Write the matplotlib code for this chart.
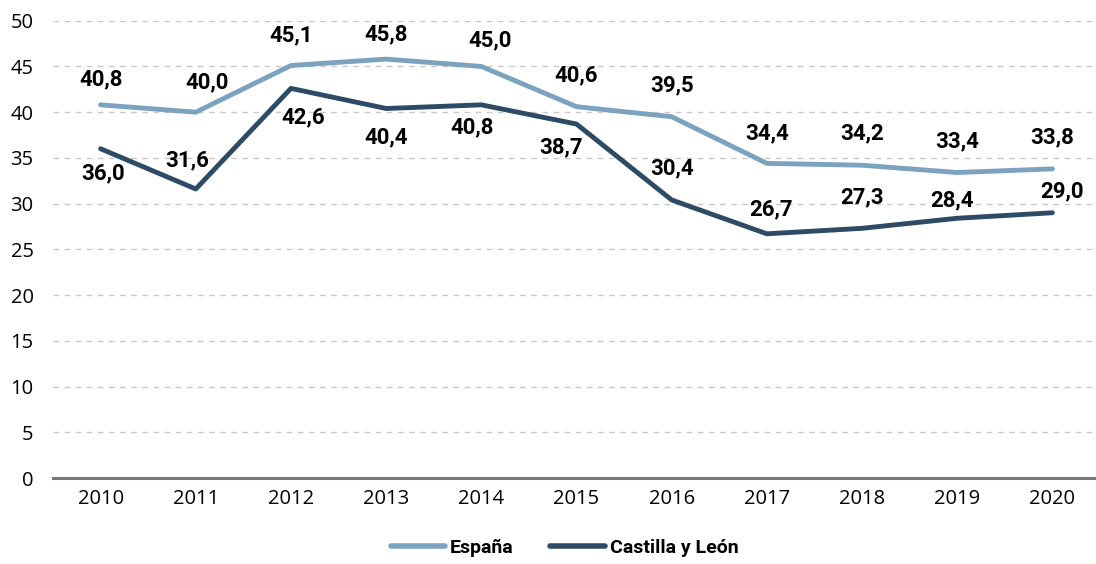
import matplotlib.pyplot as plt
from matplotlib.lines import Line2D

# Tasa por año, España frente a Castilla y León
years = ['2010', '2011', '2012', '2013', '2014', '2015', '2016', '2017', '2018', '2019', '2020']
espana = [40.8, 40.0, 45.1, 45.8, 45.0, 40.6, 39.5, 34.4, 34.2, 33.4, 33.8]
cyl = [36.0, 31.6, 42.6, 40.4, 40.8, 38.7, 30.4, 26.7, 27.3, 28.4, 29.0]

# label offsets in pixels (dx, dy), positive dy = upwards
off_esp = [(0, 25), (11, 30), (0, 30), (0, 25), (9, 26), (0, 31),
           (0, 31), (0, 30), (0, 32), (0, 31), (0, 32)]
off_cyl = [(2, -25), (-9, 29), (12, -29), (0, -29), (-9, -23), (-15, -23),
           (0, 32), (4, 24), (0, 31), (-5, 18), (10, 21)]

C_ESP = '#7ba3c0'
C_CYL = '#2d4b64'
BOLD_FONT = ['Roboto', 'DejaVu Sans']

plt.rcParams['font.family'] = ['Open Sans', 'DejaVu Sans']

fig = plt.figure(figsize=(10.96, 5.64), dpi=100)
# x axis runs slightly past the right edge of the figure
ax = fig.add_axes([53 / 1096, 1 - 478 / 564, (1100 - 53) / 1096, (478 - 20.7) / 564])

x = list(range(len(years)))
ax.plot(x, espana, color=C_ESP, lw=3.5, solid_capstyle='round', zorder=3)
ax.plot(x, cyl, color=C_CYL, lw=3.5, solid_capstyle='round', zorder=3)

for i in x:
    ax.annotate(f'{espana[i]:.1f}'.replace('.', ','), (i, espana[i]),
                xytext=off_esp[i], textcoords='offset pixels', family=BOLD_FONT,
                ha='center', va='center', fontsize=16, fontweight='bold', color='black')
    ax.annotate(f'{cyl[i]:.1f}'.replace('.', ','), (i, cyl[i]),
                xytext=off_cyl[i], textcoords='offset pixels', family=BOLD_FONT,
                ha='center', va='center', fontsize=16, fontweight='bold', color='black')

ax.set_xlim(-0.5, 10.5)
ax.set_ylim(0, 50)
ax.set_yticks(range(0, 51, 5))
ax.set_xticks(x)
ax.set_xticklabels(years)
ax.tick_params(axis='both', length=0, labelsize=14.5, colors='black')
ax.tick_params(axis='x', pad=8)
ax.tick_params(axis='y', pad=14)

ax.grid(axis='y', color='#c8c8c8', linestyle=(0, (4, 4)), lw=1)
ax.set_axisbelow(True)
for s in ['top', 'right', 'left']:
    ax.spines[s].set_visible(False)
ax.spines['bottom'].set_color('#777777')
ax.spines['bottom'].set_linewidth(2.2)

handles = [Line2D([], [], color=C_ESP, lw=4, solid_capstyle='round'),
           Line2D([], [], color=C_CYL, lw=4, solid_capstyle='round')]
fig.legend(handles, ['España', 'Castilla y León'], loc='center', bbox_to_anchor=(0.515, 1 - 548 / 564),
           ncol=2, frameon=False, handlelength=2.8, handletextpad=0.25, columnspacing=1.9,
           prop={'family': BOLD_FONT, 'weight': 'bold', 'size': 14})

fig.savefig('out.png', dpi=100)
